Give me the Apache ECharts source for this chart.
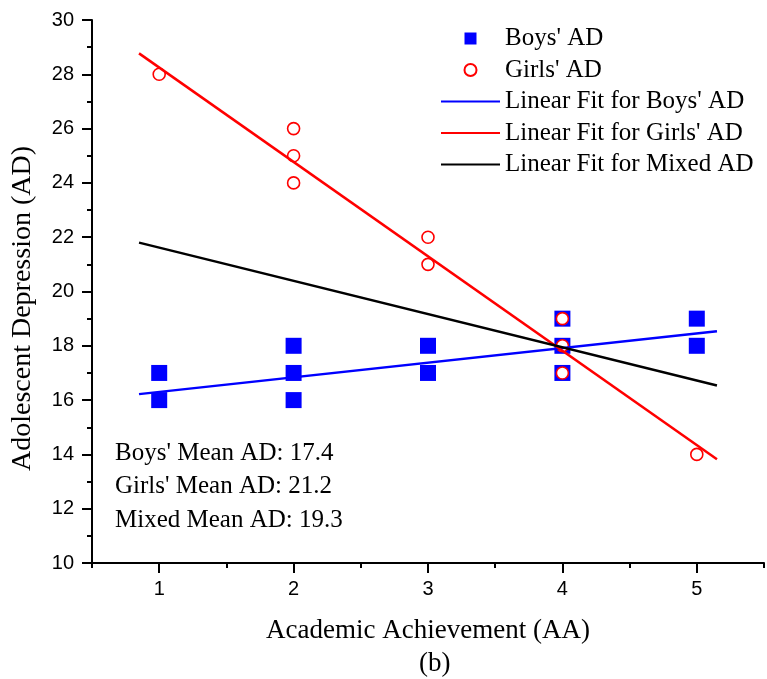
<!DOCTYPE html>
<html>
<head>
<meta charset="utf-8">
<script src="https://cdn.jsdelivr.net/npm/echarts@6/dist/echarts.min.js"></script>
<style>
  html, body { margin: 0; padding: 0; background: #fff; }
  #chart { width: 767px; height: 679px; }
</style>
</head>
<body>
<div id="chart"></div>
<script>
// scatter points [AA, AD]
const boysAD = [[1, 17], [1, 16], [2, 18], [2, 17], [2, 16], [3, 18], [3, 17], [4, 19], [4, 18], [4, 17], [5, 19], [5, 18]]
const girlsAD = [[1, 28], [2, 26], [2, 25], [2, 24], [3, 22], [3, 21], [4, 19], [4, 18], [4, 17], [5, 14]]
// fitted line end points
const boysFit = [[0.85, 16.22], [5.15, 18.54]]
const girlsFit = [[0.85, 28.77], [5.15, 13.82]]
const mixedFit = [[0.85, 21.8], [5.15, 16.54]]
const xMajorTicks = [1, 2, 3, 4, 5]
const xMinorTicks = [0.5, 1.5, 2.5, 3.5, 4.5, 5.5]
const meanLabels = ["Boys' Mean AD: 17.4", "Girls' Mean AD: 21.2", "Mixed Mean AD: 19.3"]

const serif = '"Liberation Serif", "Times New Roman", serif'
const sans = '"Liberation Sans", Arial, sans-serif'

const chart = echarts.init(document.getElementById('chart'))

const tickStyle = { color: '#000', width: 2 }
const hideDot = { opacity: 0 }

chart.setOption({
  animation: false,
  grid: { left: 92, right: 3, top: 20, bottom: 116 },
  legend: {
    orient: 'vertical',
    left: 440,
    top: 26,
    padding: 0,
    itemWidth: 59,
    itemHeight: 12,
    itemGap: 6.5,
    symbolKeepAspect: true,
    textStyle: { fontFamily: serif, fontSize: 25, color: '#000' },
    data: [
      { name: "Boys' AD", icon: 'path://M0,0H10V10H0Z' },
      { name: "Girls' AD" },
      { name: "Linear Fit for Boys' AD", itemStyle: hideDot },
      { name: "Linear Fit for Girls' AD", itemStyle: hideDot },
      { name: "Linear Fit for Mixed AD", itemStyle: hideDot }
    ]
  },
  xAxis: [{
    type: 'value',
    min: 0.5,
    max: 5.5,
    name: 'Academic Achievement (AA)',
    nameLocation: 'middle',
    nameGap: 54,
    nameTextStyle: { fontFamily: serif, fontSize: 27, color: '#000' },
    splitLine: { show: false },
    axisLine: { onZero: false, lineStyle: { color: '#000', width: 2 } },
    axisTick: { length: 10, lineStyle: tickStyle, customValues: xMajorTicks },
    axisLabel: { margin: 16, fontFamily: sans, fontSize: 20, color: '#000', customValues: xMajorTicks }
  }, {
    type: 'value',
    min: 0.5,
    max: 5.5,
    position: 'bottom',
    splitLine: { show: false },
    axisLine: { show: false },
    axisTick: { length: 5, lineStyle: tickStyle, customValues: xMinorTicks },
    axisLabel: { show: false }
  }],
  yAxis: {
    type: 'value',
    min: 10,
    max: 30,
    interval: 2,
    name: 'Adolescent Depression (AD)',
    nameLocation: 'middle',
    nameGap: 55,
    nameTextStyle: { fontFamily: serif, fontSize: 28, color: '#000', padding: [0, 34, 0, 0] },
    splitLine: { show: false },
    axisLine: { onZero: false, lineStyle: { color: '#000', width: 2 } },
    axisTick: { length: 10, lineStyle: tickStyle },
    minorTick: { show: true, splitNumber: 2, length: 5, lineStyle: tickStyle },
    axisLabel: { margin: 18, fontFamily: sans, fontSize: 20, color: '#000' }
  },
  graphic: [
    ...meanLabels.map((t, i) => ({
      type: 'text',
      left: 115,
      top: 440.5 + i * 33.5,
      style: { text: t, font: '25px ' + serif, fill: '#000' }
    })),
    {
      type: 'text',
      left: 419,
      top: 650,
      style: { text: '(b)', font: '27px ' + serif, fill: '#000' }
    }
  ],
  series: [
    {
      name: "Boys' AD",
      type: 'scatter',
      symbol: 'rect',
      symbolSize: 16,
      itemStyle: { color: '#0000ff', opacity: 1 },
      data: boysAD
    },
    {
      name: "Girls' AD",
      type: 'scatter',
      symbol: 'circle',
      symbolSize: 12,
      itemStyle: { color: '#fff', borderColor: '#ff0000', borderWidth: 1.6, opacity: 1 },
      data: girlsAD
    },
    {
      name: "Linear Fit for Boys' AD",
      type: 'line',
      symbol: 'none',
      lineStyle: { color: '#0000ff', width: 2.5 },
      itemStyle: { color: '#0000ff' },
      data: boysFit
    },
    {
      name: "Linear Fit for Girls' AD",
      type: 'line',
      symbol: 'none',
      lineStyle: { color: '#ff0000', width: 2.5 },
      itemStyle: { color: '#ff0000' },
      data: girlsFit
    },
    {
      name: "Linear Fit for Mixed AD",
      type: 'line',
      symbol: 'none',
      lineStyle: { color: '#000', width: 2.5 },
      itemStyle: { color: '#000' },
      data: mixedFit
    }
  ]
})
</script>
</body>
</html>
